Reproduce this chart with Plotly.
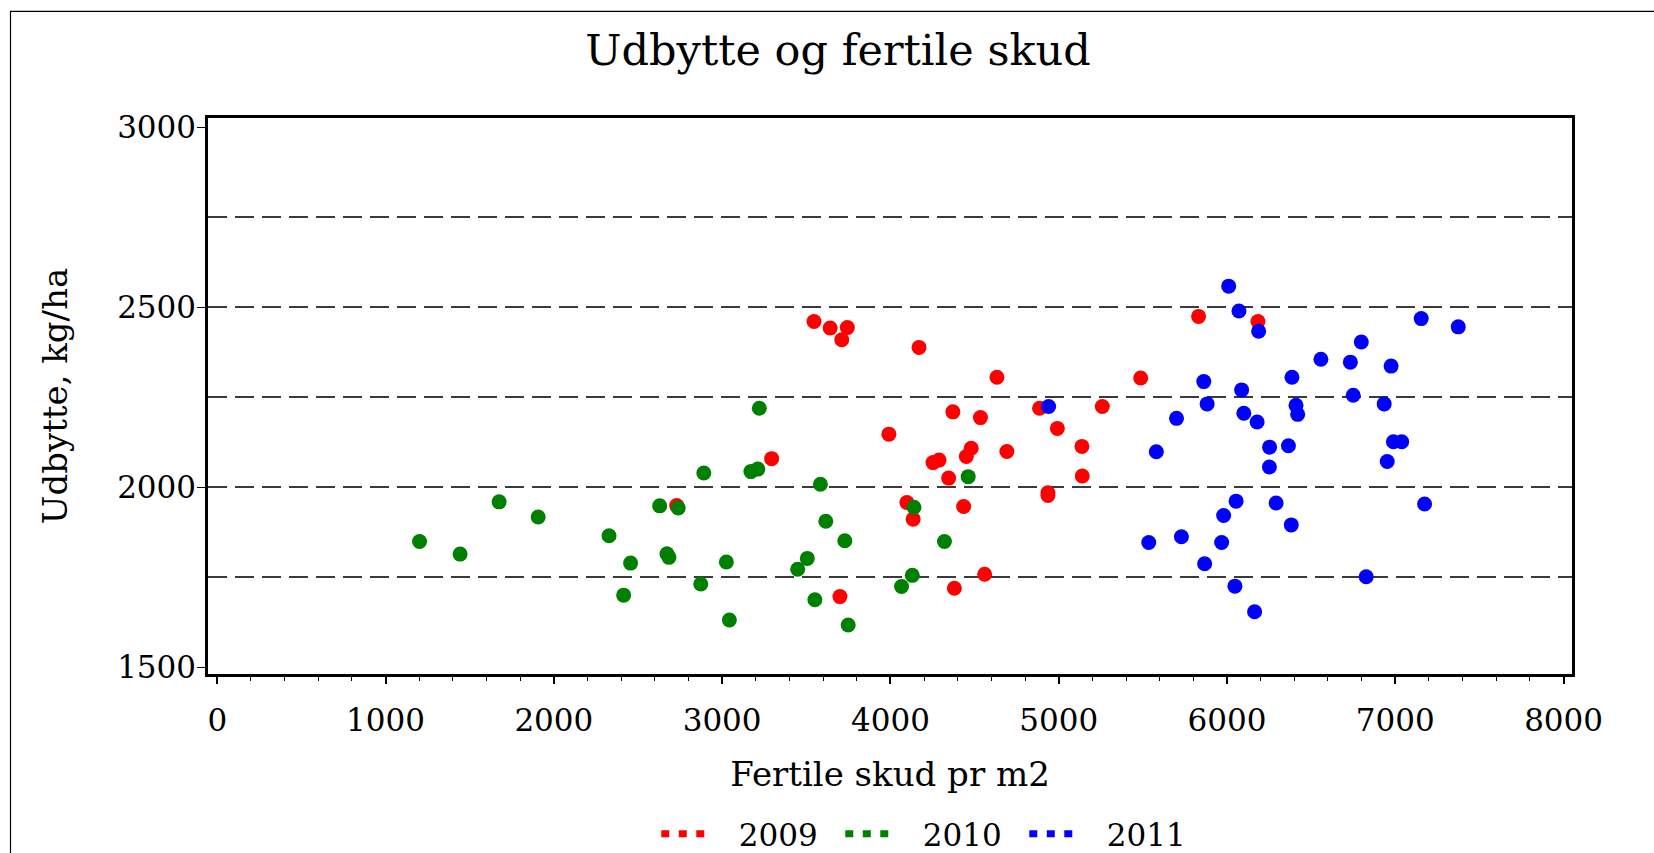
import plotly.graph_objects as go

# Fertile skud pr m2 (x) og udbytte kg/ha (y)
years = ["2009", "2010", "2011"]
colors = ["#ff0000", "#008000", "#0000ff"]

x_2009 = [2730, 3294, 3546, 3642, 3744, 3711, 4170, 4633, 3991, 4371, 4535, 4253, 4289,
          4451, 4480, 4346, 4692, 4098, 4135, 4435, 3700, 4380, 4560, 4886, 4992, 5138,
          5140, 4936, 4936, 5259, 5487, 5831, 6184]
y_2009 = [1950, 2080, 2461, 2443, 2444, 2410, 2389, 2306, 2148, 2210, 2194, 2069, 2076,
          2086, 2109, 2026, 2100, 1958, 1912, 1947, 1697, 1720, 1759, 2220, 2164, 2114,
          2032, 1985, 1978, 2225, 2304, 2475, 2461]

x_2010 = [1202, 1443, 1675, 1907, 2328, 2415, 2456, 2629, 2672, 2684, 2739, 2873, 2891,
          3025, 3043, 3171, 3212, 3221, 3449, 3506, 3551, 3584, 3616, 3729, 3749, 4066,
          4130, 4140, 4321, 4462]
y_2010 = [1850, 1815, 1960, 1918, 1866, 1701, 1790, 1949, 1816, 1806, 1943, 1732, 2040,
          1793, 1632, 2044, 2051, 2220, 1773, 1803, 1688, 2009, 1906, 1852, 1618, 1725,
          1756, 1945, 1850, 2030]

x_2011 = [4940, 6010, 6071, 6188, 5862, 6087, 5882, 5700, 6100, 6179, 6386, 6410, 6420,
          5580, 6253, 6365, 6252, 6054, 6292, 5980, 6382, 5535, 5729, 5968, 5867, 6047,
          6164, 6558, 6733, 6798, 6975, 6750, 6934, 6989, 7038, 6952, 7174, 6827, 7154,
          7374]
y_2011 = [2225, 2559, 2490, 2434, 2294, 2271, 2232, 2192, 2206, 2182, 2306, 2228, 2203,
          2099, 2112, 2116, 2057, 1962, 1957, 1922, 1896, 1847, 1863, 1847, 1788, 1726,
          1655, 2356, 2348, 2404, 2337, 2256, 2232, 2127, 2127, 2072, 1954, 1752, 2469,
          2446]

x_ticks = [0, 1000, 2000, 3000, 4000, 5000, 6000, 7000, 8000]
y_ticks = [1500, 2000, 2500, 3000]
y_grid = [1750, 2000, 2250, 2500, 2750]

FONT = "DejaVu Serif"

fig = go.Figure()

# points: 2009 first, then 2010 and 2011 on top
for yr, col, xs, ys in zip(years, colors, [x_2009, x_2010, x_2011], [y_2009, y_2010, y_2011]):
    fig.add_trace(go.Scatter(
        x=xs, y=ys, mode="markers", name=yr, showlegend=False,
        marker=dict(color=col, size=15, line=dict(width=0)),
    ))

# legend entries, drawn as three dots like the original
for yr, col in zip(years, colors):
    fig.add_trace(go.Scatter(
        x=[None], y=[None], mode="lines", name="\u00a0\u00a0\u00a0" + yr, yaxis="y2",
        line=dict(color=col, width=7, dash="8px,9.5px"),
    ))

fig.update_layout(
    width=1654, height=853,
    paper_bgcolor="white", plot_bgcolor="white",
    margin=dict(l=208, r=82, t=118, b=179, autoexpand=False),
    font=dict(family=FONT, size=31, color="black"),
    title=dict(text="Udbytte og fertile skud", x=0.5067, xref="container", xanchor="center",
               y=0.941, yref="container", yanchor="middle",
               font=dict(family=FONT, size=43, color="black")),
    xaxis=dict(
        range=[-55, 8050], tickvals=x_ticks, ticks="outside", ticklen=7, tickwidth=1.5,
        tickcolor="black", showgrid=False, zeroline=False, automargin=False,
        showline=True, linecolor="black", linewidth=2.5, mirror=True,
        minor=dict(dtick=200, ticks="outside", ticklen=4, tickwidth=1.2, tickcolor="black",
                   showgrid=False),
        ticklabelstandoff=10,
        title=dict(text="Fertile skud pr m2", font=dict(size=34), standoff=26),
    ),
    yaxis=dict(
        range=[1482, 3026], tickvals=y_ticks, ticks="outside", ticklen=8, tickwidth=1.2,
        tickcolor="black", showgrid=False, zeroline=False, automargin=False,
        showline=True, linecolor="black", linewidth=2.5, mirror=True,
        ticklabelstandoff=-5,
        title=dict(text="Udbytte, kg/ha", font=dict(size=34), standoff=40),
    ),
    yaxis2=dict(
        range=[1482, 3026], overlaying="y", tickvals=y_grid, showticklabels=False,
        ticks="", showline=False, zeroline=False, automargin=False,
        showgrid=True, gridcolor="#3a3a3a", gridwidth=1.5, griddash="19px,8px",
    ),
    legend=dict(orientation="h", x=0.531, xanchor="center", y=-0.288, yanchor="middle",
                font=dict(size=31), itemwidth=43, entrywidth=126, bgcolor="rgba(0,0,0,0)"),
    shapes=[dict(type="rect", xref="paper", yref="paper",
                 x0=-0.1448, x1=1.2, y0=-0.5, y1=1.1918,
                 line=dict(color="black", width=1.2), layer="below")],
)

# the page's default 8px body margin would push the figure off the window
fig.write_html("out.html", config={"displayModeBar": False},
               post_script="document.body.style.margin='0';")
